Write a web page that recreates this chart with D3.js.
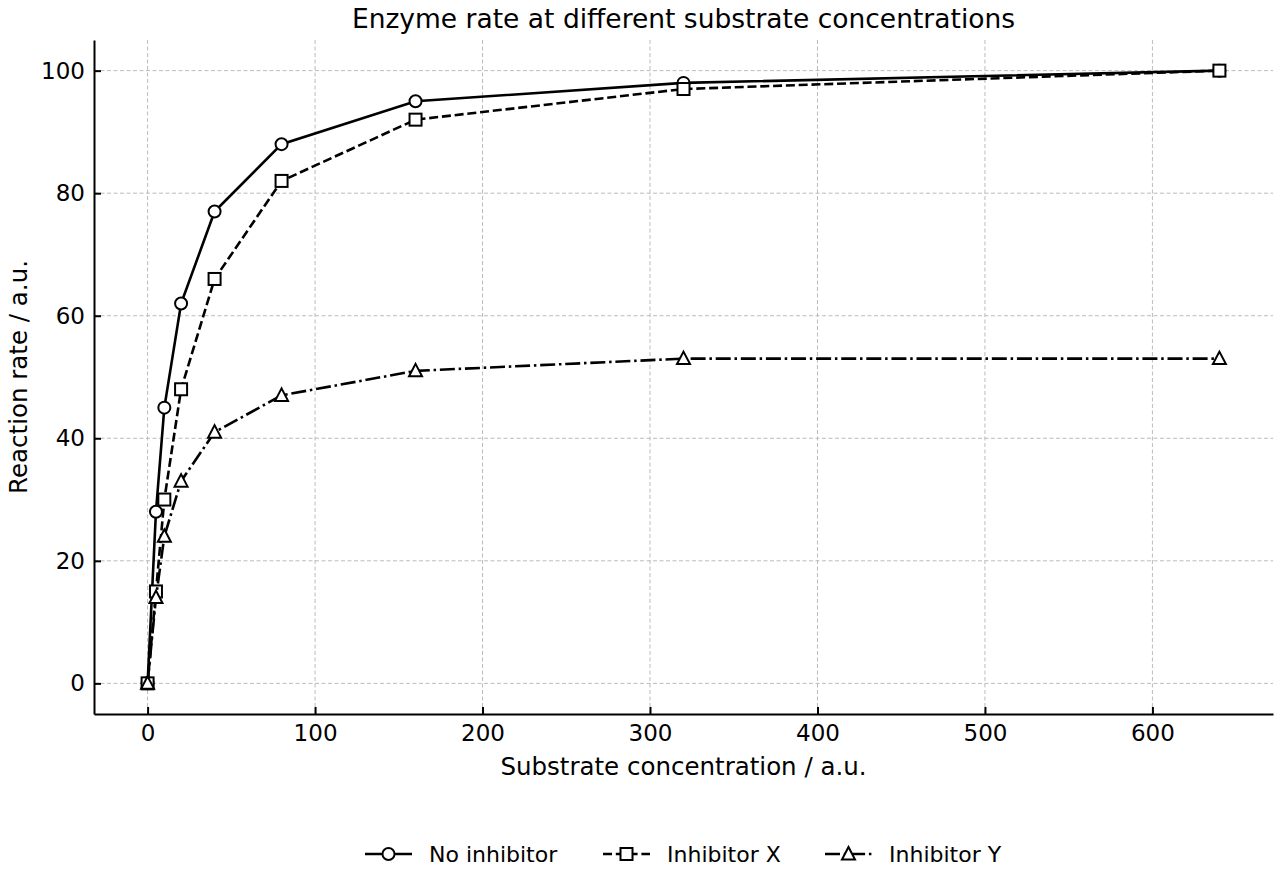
<!DOCTYPE html>
<html>
<head>
<meta charset="utf-8">
<script src="https://cdn.jsdelivr.net/npm/d3@7"></script>
<style>
  body { margin: 0; background: #fff; }
  svg { font-family: "DejaVu Sans", sans-serif; }
</style>
</head>
<body>
<div class="canvas"></div>
<script>
// data
const concentrations = [0, 5, 10, 20, 40, 80, 160, 320, 640];
const noInhibitor = [0, 28, 45, 62, 77, 88, 95, 98, 100];
const inhibitorX = [0, 15, 30, 48, 66, 82, 92, 97, 100];
const inhibitorY = [0, 14, 24, 33, 41, 47, 51, 53, 53];
const xTicks = [0, 100, 200, 300, 400, 500, 600];
const yTicks = [0, 20, 40, 60, 80, 100];

const series = [
    { name: 'No inhibitor', values: noInhibitor, marker: 'circle', dash: null },
    { name: 'Inhibitor X', values: inhibitorX, marker: 'square', dash: '9,3.8' },
    { name: 'Inhibitor Y', values: inhibitorY, marker: 'triangle', dash: '15,3.8,2.5,3.8' }
];

const svgDims = { width: 1280, height: 880 };
const margin = { top: 40, right: 7, bottom: 166, left: 94 };
const graphWidth = svgDims.width - margin.left - margin.right;
const graphHeight = svgDims.height - margin.top - margin.bottom;

const svg = d3.select('.canvas')
    .append('svg')
    .attr('width', svgDims.width)
    .attr('height', svgDims.height);

const graph = svg.append('g')
    .attr('transform', `translate(${margin.left}, ${margin.top})`);

const x = d3.scaleLinear().domain([-32, 672]).range([0, graphWidth]);
const y = d3.scaleLinear().domain([-5, 105]).range([graphHeight, 0]);

// grid
graph.append('g').selectAll('line')
    .data(xTicks)
    .enter().append('line')
        .attr('x1', d => x(d)).attr('x2', d => x(d))
        .attr('y1', 0).attr('y2', graphHeight)
        .attr('stroke', '#bbbbbb').attr('stroke-width', 1)
        .attr('stroke-dasharray', '4,2.5');
graph.append('g').selectAll('line')
    .data(yTicks)
    .enter().append('line')
        .attr('x1', 0).attr('x2', graphWidth)
        .attr('y1', d => y(d)).attr('y2', d => y(d))
        .attr('stroke', '#bbbbbb').attr('stroke-width', 1)
        .attr('stroke-dasharray', '4,2.5');

// axes
const xAxis = d3.axisBottom(x).tickValues(xTicks).tickSizeInner(-7).tickSizeOuter(0).tickPadding(11);
const yAxis = d3.axisLeft(y).tickValues(yTicks).tickSizeInner(-7).tickSizeOuter(0).tickPadding(9);

const xAxisGroup = graph.append('g')
    .attr('transform', `translate(0, ${graphHeight})`)
    .call(xAxis);
const yAxisGroup = graph.append('g').call(yAxis);

[xAxisGroup, yAxisGroup].forEach(g => {
    g.select('.domain').attr('stroke', '#000').attr('stroke-width', 2);
    g.selectAll('.tick line').attr('stroke', '#000').attr('stroke-width', 2);
    g.selectAll('.tick text').attr('font-size', 23).attr('fill', '#000')
        .attr('font-family', '"DejaVu Sans", sans-serif');
});
xAxisGroup.selectAll('.tick text').attr('dy', '0.71em');

// markers
const drawMarker = (sel, type) => {
    if (type === 'circle') {
        sel.append('circle').attr('r', 6);
    } else if (type === 'square') {
        sel.append('rect').attr('x', -6).attr('y', -6).attr('width', 12).attr('height', 12);
    } else {
        sel.append('path').attr('d', 'M0,-7L6.5,5.5L-6.5,5.5Z');
    }
    sel.selectAll('*')
        .attr('fill', '#fff')
        .attr('stroke', '#000')
        .attr('stroke-width', 2);
};

const line = d3.line()
    .x((d, i) => x(concentrations[i]))
    .y(d => y(d));

series.forEach(s => {
    const g = graph.append('g');
    g.append('path')
        .attr('d', line(s.values))
        .attr('fill', 'none')
        .attr('stroke', '#000')
        .attr('stroke-width', 2.6)
        .attr('stroke-dasharray', s.dash);
    g.selectAll('g.pt')
        .data(s.values)
        .enter().append('g')
            .attr('class', 'pt')
            .attr('transform', (d, i) => `translate(${x(concentrations[i])}, ${y(d)})`)
            .each(function () { drawMarker(d3.select(this), s.marker); });
});

// title and labels
svg.append('text')
    .attr('x', margin.left + graphWidth / 2)
    .attr('y', 28)
    .attr('text-anchor', 'middle')
    .attr('font-size', 26.5)
    .text('Enzyme rate at different substrate concentrations');

svg.append('text')
    .attr('x', margin.left + graphWidth / 2)
    .attr('y', 775)
    .attr('text-anchor', 'middle')
    .attr('font-size', 24.5)
    .text('Substrate concentration / a.u.');

svg.append('text')
    .attr('transform', `translate(27, ${margin.top + graphHeight / 2}) rotate(-90)`)
    .attr('text-anchor', 'middle')
    .attr('font-size', 24.5)
    .text('Reaction rate / a.u.');

// legend
const legendX = [365, 603, 825];
const legend = svg.append('g');
series.forEach((s, i) => {
    const g = legend.append('g').attr('transform', `translate(${legendX[i]}, 854)`);
    g.append('line')
        .attr('x1', 0).attr('x2', 47)
        .attr('stroke', '#000').attr('stroke-width', 2.6)
        .attr('stroke-dasharray', s.dash);
    const m = g.append('g').attr('transform', 'translate(23.5, 0)');
    drawMarker(m, s.marker);
    g.append('text')
        .attr('x', 64)
        .attr('y', 8)
        .attr('font-size', 22)
        .text(s.name);
});
</script>
</body>
</html>
